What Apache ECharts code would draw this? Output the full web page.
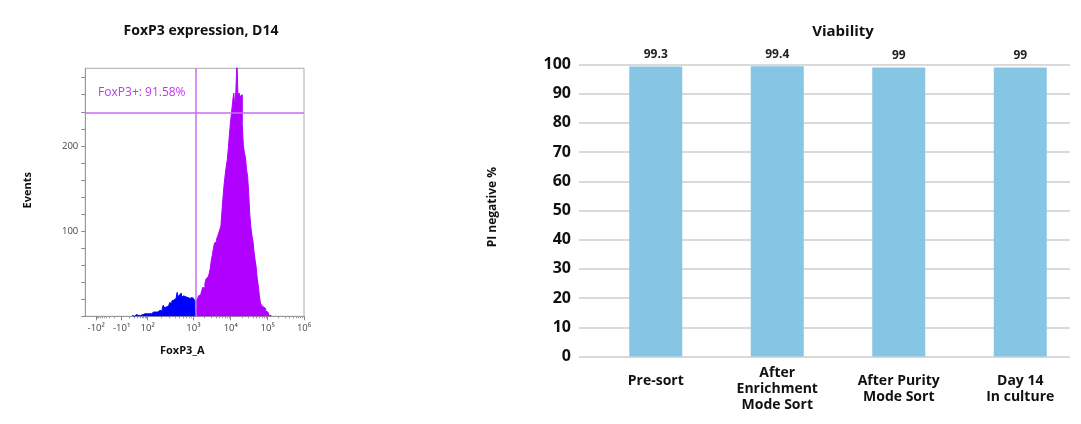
<!DOCTYPE html>
<html><head><meta charset="utf-8">
<script src="https://cdn.jsdelivr.net/npm/echarts@6/dist/echarts.min.js"></script>
<style>html,body{margin:0;padding:0;background:#fff}#c{width:1081px;height:424px}</style>
</head><body><div id="c"></div>
<script>
// ---------- Histogram (FoxP3 expression) ----------
const histTitle = 'FoxP3 expression, D14';
const histXName = 'FoxP3_A';
const histYName = 'Events';
const gateLabel = 'FoxP3+: 91.58%';
const binStart = 220;      // display channel of first bin
const binWidth = 5;        // channels per bin
const blueCounts = [
  1,0,1,2,1, 1,2,1,2,2, 2,3,2,3,3, 3,4,3,4,5, 4,5,7,5,6,
  7,8,6,9,13, 10,11,9,12,14, 16,15,18,19,17, 21,20,28,22,25,
  27,22,24,25,23, 24,22,23,21,23, 22,21,20,22
];
const purpleCounts = [
  18,
  20,22,24,25,27, 30,34,33,38,44, 46,48,50,56,66, 72,80,86,88,91,
  94,98,102,106,124, 140,155,166,176,184, 198,214,228,240,252,
  262,248,264,300,258, 262,258,260,225,200, 192,186,172,164,145,
  120,105,95,88,76, 66,58,44,36,24, 16,13,11,10,9, 6,5,3,1,1
];
const gateChannel = 517;
const gateEvents = 239;
const xTickLabels = ['-10²','-10¹','10²','10³','10⁴','10⁵','10⁶'];
const xTickChannels = [51, 170, 292, 506, 681, 854, 1024];
const histYMax = 291;
const yTickValues = [0,20,40,60,80,100,120,140,160,180,200,220,240,260,280];
const yLabelValues = [100, 200];

// ---------- Bar chart (Viability) ----------
const barTitle = 'Viability';
const barYName = 'PI negative %';
const categories = ['Pre-sort', 'After\nEnrichment\nMode Sort', 'After Purity\nMode Sort', 'Day 14\nIn culture'];
const viability = [99.3, 99.4, 99, 99];

// build histogram step data
function stepData(counts, firstIndex) {
  const d = counts.map((v, i) => [binStart + (firstIndex + i) * binWidth, v]);
  d.push([binStart + (firstIndex + counts.length) * binWidth, 0]);
  return d;
}
const blueData = stepData(blueCounts, 0);
const purpleData = stepData(purpleCounts, blueCounts.length);

// minor ticks (log spacing inside each labelled interval)
const minorTicks = [];
for (let k = 0; k < xTickChannels.length - 1; k++) {
  const c0 = xTickChannels[k], c1 = xTickChannels[k + 1];
  for (let m = 2; m <= 9; m++) {
    const f = k === 0 ? 1 - Math.log10(11 - m) : Math.log10(m);
    minorTicks.push(c0 + f * (c1 - c0));
  }
}

const FONT = '"Open Sans", "Noto Sans", sans-serif';
const chart = echarts.init(document.getElementById('c'), null, {renderer: 'canvas'});

// single-line category label sits a little higher than the multi-line ones
const catData = categories.map(c => c.indexOf('\n') < 0 ? {value: c, textStyle: {verticalAlign: 'bottom'}} : c);

chart.setOption({
  animation: false,
  textStyle: {fontFamily: FONT},
  title: [
    {text: histTitle, left: 196, top: 19, textAlign: 'center',
     textStyle: {fontFamily: FONT, fontSize: 14, fontWeight: 'bold', color: '#111'}},
    {text: barTitle, left: 838, top: 19, textAlign: 'center',
     textStyle: {fontFamily: FONT, fontSize: 15, fontWeight: 'bold', color: '#111'}}
  ],
  graphic: [
    {type: 'text', left: 22, top: 172, rotation: Math.PI / 2,
     style: {text: histYName, font: 'bold 11px ' + FONT, fill: '#111'}},
    {type: 'text', left: 160, top: 345,
     style: {text: histXName, font: 'bold 11px ' + FONT, fill: '#111'}},
    {type: 'text', left: 487, top: 167, rotation: Math.PI / 2,
     style: {text: barYName, font: 'bold 12px ' + FONT, fill: '#111'}}
  ],
  grid: [
    {left: 85.3, top: 68.3, width: 218.7, height: 248, show: true, borderColor: '#aaa', borderWidth: 1, backgroundColor: '#fff'},
    {left: 595, top: 64.5, width: 496, height: 292},
    {left: 579, top: 64.5, width: 491, height: 292}
  ],
  xAxis: [
    {gridIndex: 0, type: 'value', min: 0, max: 1024, position: 'bottom',
     axisLine: {show: true, lineStyle: {color: '#999'}},
     axisTick: {show: true, length: 4, customValues: xTickChannels, lineStyle: {color: '#888'}},
     axisLabel: {customValues: xTickChannels, margin: 7, fontSize: 9.5, color: '#444', fontFamily: FONT,
       formatter: v => xTickLabels[xTickChannels.indexOf(v)] || ''},
     splitLine: {show: false}},
    {gridIndex: 0, type: 'value', min: 0, max: 1024, position: 'bottom',
     axisLine: {show: false},
     axisTick: {show: true, length: 2, customValues: minorTicks, lineStyle: {color: '#999'}},
     axisLabel: {show: false}, splitLine: {show: false}},
    {gridIndex: 1, type: 'category', data: catData,
     axisLine: {show: false}, axisTick: {show: false},
     axisLabel: {fontSize: 14, fontWeight: 'bold', color: '#111', lineHeight: 16, margin: 33,
       verticalAlign: 'middle', fontFamily: FONT, interval: 0}},
    {gridIndex: 2, type: 'value', min: 0, max: 1, show: false}
  ],
  yAxis: [
    {gridIndex: 0, type: 'value', min: 0, max: histYMax,
     axisLine: {show: true, lineStyle: {color: '#999'}},
     axisTick: {show: true, length: 4, customValues: yTickValues, lineStyle: {color: '#888'}},
     axisLabel: {customValues: yLabelValues, margin: 7, fontSize: 9.5, color: '#444', fontFamily: FONT},
     splitLine: {show: false}},
    {gridIndex: 1, type: 'value', min: 0, max: 100, show: false},
    {gridIndex: 2, type: 'value', min: 0, max: 100, interval: 10,
     axisLine: {show: false}, axisTick: {show: false},
     axisLabel: {fontSize: 16, fontWeight: 'bold', color: '#111', margin: 8, fontFamily: FONT},
     splitLine: {show: true, lineStyle: {color: '#d9d9d9', width: 2}}}
  ],
  series: [
    {type: 'line', xAxisIndex: 0, yAxisIndex: 0, step: 'end', data: blueData, symbol: 'none',
     lineStyle: {color: '#0000ff', width: 1}, areaStyle: {color: '#0000ff', opacity: 1}, clip: true, z: 2},
    {type: 'line', xAxisIndex: 0, yAxisIndex: 0, step: 'end', data: purpleData, symbol: 'none',
     lineStyle: {color: '#b000ff', width: 1}, areaStyle: {color: '#b000ff', opacity: 1}, clip: true, z: 2,
     markLine: {silent: true, symbol: 'none', label: {show: false},
       lineStyle: {color: '#c86cf5', width: 1.5, type: 'solid'},
       data: [{xAxis: gateChannel}, {yAxis: gateEvents}]}},
    {type: 'scatter', xAxisIndex: 0, yAxisIndex: 0, data: [[60, 263]], symbolSize: 0, silent: true,
     label: {show: true, position: 'right', distance: 0, formatter: gateLabel,
       fontSize: 12, color: '#b000f0', fontFamily: FONT}},
    {type: 'bar', xAxisIndex: 2, yAxisIndex: 1, data: viability, barWidth: 53,
     itemStyle: {color: '#86c5e3'},
     label: {show: true, position: 'top', distance: 6, fontSize: 12, fontWeight: 'bold', color: '#222', fontFamily: FONT}}
  ]
});
</script></body></html>
